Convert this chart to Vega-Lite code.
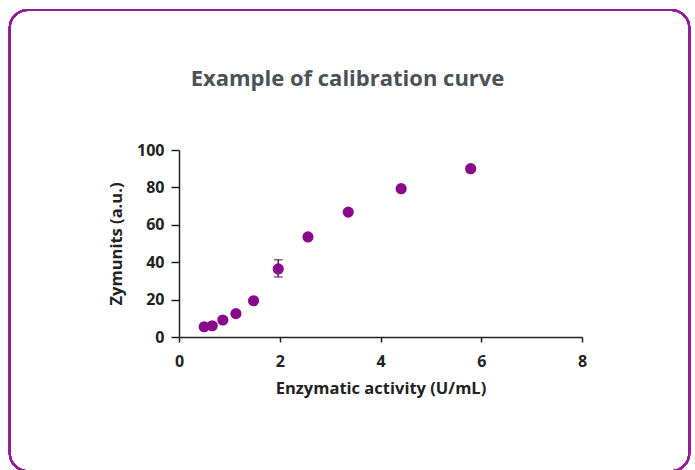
{
  "$schema": "https://vega.github.io/schema/vega-lite/v6.json",
  "autosize": "none",
  "width": 403,
  "height": 187,
  "padding": {"left": 179, "top": 150, "right": 113, "bottom": 133},
  "background": "white",
  "title": {
    "text": "Example of calibration curve",
    "font": "Open Sans",
    "fontSize": 22,
    "fontWeight": "bold",
    "color": "#4a5257",
    "anchor": "middle",
    "dx": -33,
    "offset": -82
  },
  "data": {
    "values": [
      {"activity": 0.50, "zymunits": 5.5, "lo": null, "hi": null},
      {"activity": 0.66, "zymunits": 6.0, "lo": null, "hi": null},
      {"activity": 0.87, "zymunits": 9.1, "lo": null, "hi": null},
      {"activity": 1.13, "zymunits": 12.5, "lo": null, "hi": null},
      {"activity": 1.48, "zymunits": 19.4, "lo": null, "hi": null},
      {"activity": 1.97, "zymunits": 36.4, "lo": 32.1, "hi": 41.3},
      {"activity": 2.56, "zymunits": 53.5, "lo": null, "hi": null},
      {"activity": 3.36, "zymunits": 66.8, "lo": null, "hi": null},
      {"activity": 4.41, "zymunits": 79.3, "lo": null, "hi": null},
      {"activity": 5.79, "zymunits": 90.0, "lo": null, "hi": null}
    ]
  },
  "config": {
    "view": {"stroke": null},
    "axis": {
      "domainColor": "#222222",
      "tickColor": "#222222",
      "grid": false,
      "labelFont": "Open Sans",
      "labelFontWeight": "bold",
      "labelFontSize": 16,
      "labelColor": "#222222",
      "labelOverlap": false,
      "labelFlush": false,
      "titleFont": "Open Sans",
      "titleFontWeight": "bold",
      "titleFontSize": 16.5,
      "titleColor": "#222222",
      "domainWidth": 1.5,
      "tickWidth": 1.5
    },
    "axisX": {"tickSize": 5, "labelPadding": 11, "titlePadding": 11},
    "axisY": {"tickSize": 8, "labelPadding": 7, "titlePadding": 12}
  },
  "encoding": {
    "x": {
      "type": "quantitative",
      "scale": {"domain": [0, 8], "nice": false, "zero": false},
      "axis": {"values": [0, 2, 4, 6, 8], "title": "Enzymatic activity (U/mL)"}
    },
    "y": {
      "type": "quantitative",
      "scale": {"domain": [0, 100], "nice": false, "zero": false},
      "axis": {"values": [0, 20, 40, 60, 80, 100], "title": "Zymunits (a.u.)"}
    }
  },
  "layer": [
    {
      "mark": {"type": "rect", "filled": false, "stroke": "#961b9b", "strokeWidth": 2, "cornerRadius": 18, "clip": false},
      "encoding": {
        "x": {"datum": -3.36, "type": "quantitative", "scale": {"domain": [0, 8], "nice": false, "zero": false}, "axis": {"values": [0, 2, 4, 6, 8], "title": "Enzymatic activity (U/mL)"}},
        "x2": {"datum": 10.13},
        "y": {"datum": 174.9, "type": "quantitative", "scale": {"domain": [0, 100], "nice": false, "zero": false}, "axis": {"values": [0, 20, 40, 60, 80, 100], "title": "Zymunits (a.u.)"}},
        "y2": {"datum": -71.7}
      }
    },
    {
      "mark": {"type": "errorbar", "ticks": {"size": 9}, "color": "#5a2050", "thickness": 1.5},
      "transform": [{"filter": "datum.lo != null"}],
      "encoding": {
        "x": {"field": "activity"},
        "y": {"field": "lo"},
        "y2": {"field": "hi"}
      }
    },
    {
      "mark": {"type": "circle", "size": 125, "color": "#8b0a8b", "opacity": 1},
      "encoding": {
        "x": {"field": "activity"},
        "y": {"field": "zymunits"}
      }
    }
  ]
}
